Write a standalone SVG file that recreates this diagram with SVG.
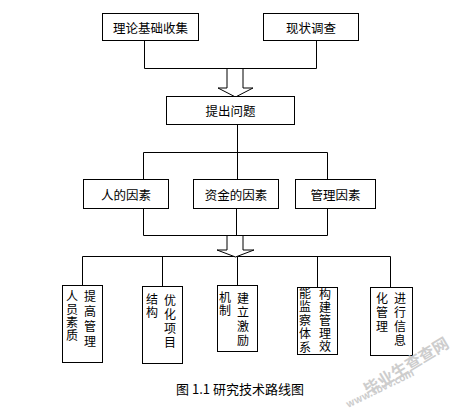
<svg xmlns="http://www.w3.org/2000/svg" width="460" height="420" viewBox="0 0 460 420">
<style>
.box{fill:#fff;stroke:#000;stroke-width:1}
.ln{fill:none;stroke:#000;stroke-width:1}
.arr{fill:#fff;stroke:#000;stroke-width:1}
text{font-family:"Noto Sans CJK SC","Liberation Sans",sans-serif;fill:#000}
.t{font-size:12.5px;text-anchor:middle;dominant-baseline:central}
.v{font-size:12px;writing-mode:vertical-rl;text-anchor:start}
.wm{fill:#c8c8c8;font-weight:bold}
</style>
<rect width="460" height="420" fill="#fff"/>
<g id="connectors">
<path class="ln" d="M144.5 40V68.5H316.5V40"/>
<path class="ln" d="M237.5 124V152.5"/>
<path class="ln" d="M143.5 179V152.5H327.5V179M237.5 152.5V179"/>
<path class="ln" d="M143.5 208V235.5H327.5V208M236.5 208V235.5"/>
<path class="ln" d="M82.5 285V256.5H390.5V287M162.5 256.5V286M237.5 256.5V285M317.5 256.5V287"/>
<polygon class="arr" points="227,68.5 243,68.5 243,88 253,88 235.5,97 218,88 227,88"/>
<polygon class="arr" points="227,235.5 243,235.5 243,250 254,250 235.5,257 217,250 227,250"/>
</g>
<g id="n1"><rect class="box" x="102.5" y="13.5" width="96" height="27"/><text class="t" x="150.5" y="27">理论基础收集</text></g>
<g id="n2"><rect class="box" x="263.5" y="13.5" width="95" height="27"/><text class="t" x="311" y="27">现状调查</text></g>
<g id="n3"><rect class="box" x="166.5" y="96.5" width="128" height="28"/><text class="t" x="230.5" y="110.5">提出问题</text></g>
<g id="n4"><rect class="box" x="83.5" y="179.5" width="85" height="29"/><text class="t" x="126" y="194">人的因素</text></g>
<g id="n5"><rect class="box" x="193.5" y="179.5" width="85" height="29"/><text class="t" x="236" y="194">资金的因素</text></g>
<g id="n6"><rect class="box" x="295.5" y="179.5" width="80" height="29"/><text class="t" x="335.5" y="194">管理因素</text></g>
<g id="n7"><rect class="box" x="62.5" y="285.5" width="40" height="77"/>
<text class="v" x="90" y="290" letter-spacing="3">提高管理</text>
<text class="v" x="72" y="290" letter-spacing="1">人员素质</text></g>
<g id="n8"><rect class="box" x="142.5" y="286.5" width="40" height="77"/>
<text class="v" x="170" y="294" letter-spacing="2">优化项目</text>
<text class="v" x="152" y="293" letter-spacing="1">结构</text></g>
<g id="n9"><rect class="box" x="217.5" y="285.5" width="40" height="66"/>
<text class="v" x="225" y="291" letter-spacing="1">机制</text>
<text class="v" x="243" y="292" letter-spacing="2">建立激励</text></g>
<g id="n10"><rect class="box" x="297.5" y="287.5" width="40" height="67"/>
<text class="v" x="305" y="287" font-size="11" letter-spacing="1.6">能监察体系</text>
<text class="v" x="325" y="288" letter-spacing="1">构建管理效</text></g>
<g id="n11"><rect class="box" x="370.5" y="287.5" width="42" height="68"/>
<text class="v" x="382" y="292" letter-spacing="2">化管理</text>
<text class="v" x="400" y="292" letter-spacing="2">进行信息</text></g>
<text x="240" y="394" font-size="13" text-anchor="middle">图 1.1 研究技术路线图</text>
<g id="watermark" opacity="0.9">
<text class="wm" font-size="16" transform="translate(368 396) rotate(-31)">毕业生查查网</text>
<text class="wm" font-size="10" transform="translate(348 408) rotate(-26)">www.sbvv.com</text>
</g>
</svg>
